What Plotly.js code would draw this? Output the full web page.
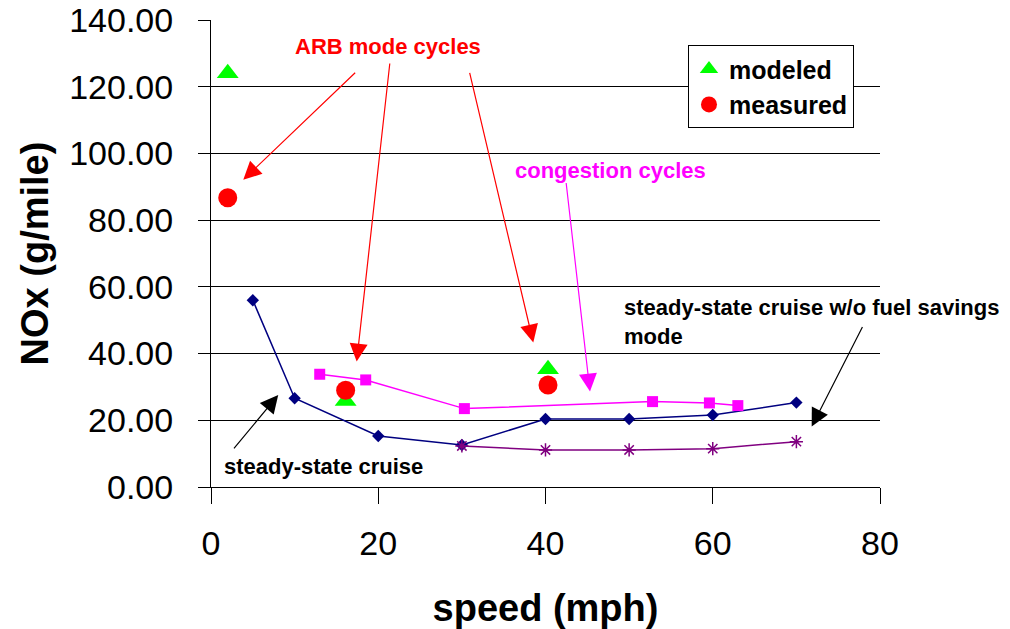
<!DOCTYPE html>
<html>
<head>
<meta charset="utf-8">
<script src="https://cdn.plot.ly/plotly-3.0.1.min.js"></script>
<style>html,body{margin:0;padding:0;background:#fff;}#chart{width:1010px;height:629px;}</style>
</head>
<body>
<div id="chart"></div>
<script>
// steady-state cruise
const cruiseSpeed = [5, 10, 20, 30, 40, 50, 60, 70];
const cruiseNOx = [56.0, 26.6, 15.3, 12.6, 20.4, 20.4, 21.6, 25.3];
// steady-state cruise w/o fuel savings mode
const noSaveSpeed = [30, 40, 50, 60, 70];
const noSaveNOx = [12.3, 11.1, 11.1, 11.5, 13.6];
// congestion cycles
const congSpeed = [13, 18.5, 30.3, 52.8, 59.6, 63.0];
const congNOx = [33.8, 32.1, 23.5, 25.6, 25.2, 24.4];
// ARB mode cycles
const arbSpeed = [2, 16.1, 40.3];
const modeledNOx = [124.0, 25.8, 35.3];
const measuredNOx = [86.7, 29.0, 30.6];

const xTicks = [0, 20, 40, 60, 80];
const yTicks = [0, 20, 40, 60, 80, 100, 120, 140];

const font = 'Liberation Sans, Arial, sans-serif';

const traces = [
  {x: cruiseSpeed, y: cruiseNOx, mode: 'lines+markers', name: 'steady-state cruise', showlegend: false,
   line: {color: '#000080', width: 1.5}, marker: {symbol: 'diamond', size: 9.5, color: '#000080'}},
  {x: noSaveSpeed, y: noSaveNOx, mode: 'lines+markers', name: 'w/o fuel savings', showlegend: false,
   line: {color: '#800080', width: 1.5}, marker: {symbol: 'asterisk-open', size: 11, color: '#800080', line: {color: '#800080', width: 1.5}}},
  {x: congSpeed, y: congNOx, mode: 'lines+markers', name: 'congestion', showlegend: false,
   line: {color: '#FF00FF', width: 1.5}, marker: {symbol: 'square', size: 11, color: '#FF00FF'}},
  {x: arbSpeed, y: modeledNOx, mode: 'markers', name: 'modeled',
   marker: {symbol: 'triangle-up', size: 19, color: '#00FF00'}},
  {x: arbSpeed, y: measuredNOx, mode: 'markers', name: 'measured',
   marker: {symbol: 'circle', size: 19, color: '#FF0000'}}
];

function arrow(x, y, ax, ay, color) {
  return {x: x, y: y, ax: ax, ay: ay, xref: 'x', yref: 'y', axref: 'x', ayref: 'y',
    text: '', showarrow: true, arrowhead: 2, arrowsize: 3, arrowwidth: 1.2, arrowcolor: color, standoff: 0};
}
function label(x, y, text, color, xanchor) {
  return {x: x, y: y, xref: 'x', yref: 'y', text: text, showarrow: false, xanchor: xanchor || 'center',
    align: 'left', font: {family: font, size: 22, color: color, weight: 'bold'}};
}

const layout = {
  width: 1010, height: 629,
  margin: {l: 211, r: 130, t: 20, b: 142},
  paper_bgcolor: '#fff', plot_bgcolor: '#fff',
  showlegend: true,
  legend: {x: 0.713, y: 0.946, xanchor: 'left', yanchor: 'top', bgcolor: '#fff',
    bordercolor: '#000', borderwidth: 1, font: {family: font, size: 25, color: '#000', weight: 'bold'},
    itemwidth: 30, tracegroupgap: 0},
  xaxis: {range: [0, 80], tickvals: xTicks, ticks: 'outside', ticklen: 16, tickcolor: '#000',
    showline: true, linecolor: '#000', linewidth: 1, showgrid: false, zeroline: false,
    tickfont: {family: font, size: 34, color: '#000'}, ticklabelstandoff: 10,
    title: {text: 'speed (mph)', font: {family: font, size: 38, color: '#000', weight: 'bold'}, standoff: 40}},
  yaxis: {range: [0, 140], tickvals: yTicks, tickformat: '.2f', ticks: 'outside', ticklen: 12, tickcolor: '#000',
    showline: true, linecolor: '#000', linewidth: 1, showgrid: true, gridcolor: '#000', gridwidth: 1, zeroline: false,
    tickfont: {family: font, size: 34, color: '#000'}, ticklabelstandoff: 18,
    title: {text: 'NOx (g/mile)', font: {family: font, size: 38, color: '#000', weight: 'bold'}, standoff: 8}},
  annotations: [
    label(21.2, 132, 'ARB mode cycles', '#FF0000'),
    label(47.8, 94.8, 'congestion cycles', '#FF00FF'),
    label(13.5, 6.0, 'steady-state cruise', '#000'),
    label(49.1, 49.5, 'steady-state cruise w/o fuel savings<br>mode', '#000', 'left'),
    arrow(3.86, 92.1, 17.42, 124.6, '#FF0000'),
    arrow(17.42, 37.6, 21.4, 127.4, '#FF0000'),
    arrow(38.54, 43.3, 30.89, 124.6, '#FF0000'),
    arrow(45.32, 28.6, 42.45, 91.6, '#FF00FF'),
    arrow(71.83, 18.1, 77.99, 48.4, '#000'),
    arrow(8.04, 27.6, 2.6, 11.1, '#000')
  ]
};

Plotly.newPlot('chart', traces, layout, {displayModeBar: false, staticPlot: true});
</script>
</body>
</html>
